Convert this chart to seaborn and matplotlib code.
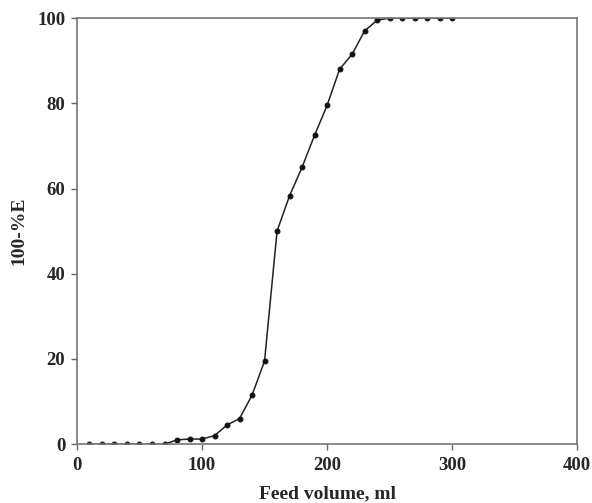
import matplotlib
matplotlib.use("Agg")
import matplotlib.pyplot as plt
import seaborn as sns
import pandas as pd

feed_volume = [10, 20, 30, 40, 50, 60, 70, 80, 90, 100, 110, 120, 130, 140, 150,
               160, 170, 180, 190, 200, 210, 220, 230, 240, 250, 260, 270, 280, 290, 300]
percent_e = [0, 0, 0, 0, 0, 0, 0, 1.0, 1.2, 1.2, 2.0, 4.5, 6.0, 11.5, 19.5,
             50.0, 58.3, 65.0, 72.5, 79.5, 88.0, 91.5, 97.0, 99.5, 100, 100, 100, 100, 100, 100]

df = pd.DataFrame({"x": feed_volume, "y": percent_e})

sns.set_style("white")
plt.rcParams['font.family'] = ['Liberation Serif', 'DejaVu Serif']
plt.rcParams['font.weight'] = 'bold'

fig = plt.figure(figsize=(5.92, 5.03), dpi=100)
ax = fig.add_axes([0.130, 0.117, 0.845, 0.847])

sns.lineplot(data=df, x="x", y="y", ax=ax, color="#222222", linewidth=1.1,
             marker="o", markersize=3.5, markeredgecolor="#111111",
             markerfacecolor="#111111")

ax.set_xlim(0, 400)
ax.set_ylim(0, 100)
ax.set_xticks([0, 100, 200, 300, 400])
ax.set_yticks([0, 20, 40, 60, 80, 100])
ax.tick_params(direction='out', length=4.5, width=1, color='#666666',
               labelsize=13.5, bottom=True, left=True)
ax.tick_params(axis='x', pad=5)
ax.tick_params(axis='y', pad=4)
for lab in ax.get_xticklabels() + ax.get_yticklabels():
    lab.set_fontweight('bold')
for s in ax.spines.values():
    s.set_color('#777777')
    s.set_linewidth(1.2)

ax.set_xlabel("Feed volume, ml", fontsize=14, fontweight='bold', labelpad=8)
ax.set_ylabel("100-%E", fontsize=14, fontweight='bold', labelpad=7)

fig.savefig("out.png", dpi=100)
